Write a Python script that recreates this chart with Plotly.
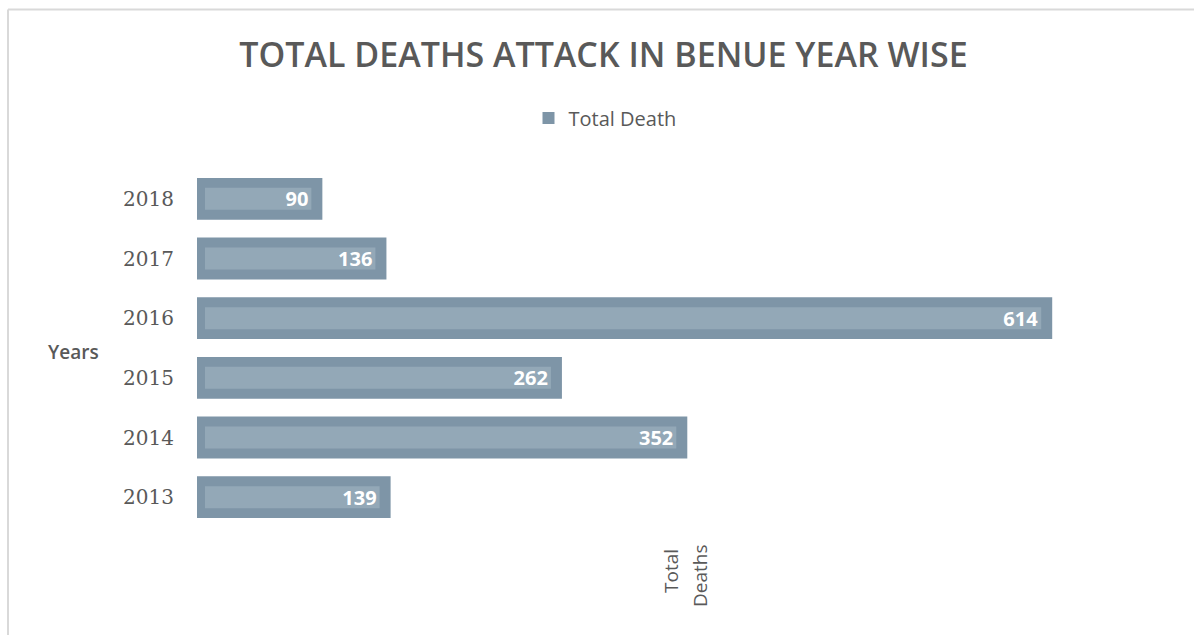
import plotly.graph_objects as go

# Data
years = ["2013", "2014", "2015", "2016", "2017", "2018"]
total_death = [139, 352, 262, 614, 136, 90]

W, H = 1194, 635
M_L, M_R, M_T, M_B = 197, 22, 169, 108
X_MAX = 700

OUTER = "#7e95a7"
INNER = "#93a8b7"
TEXT_GRAY = "#595959"

plot_w = W - M_L - M_R
plot_h = H - M_T - M_B
px_per_unit = plot_w / X_MAX
inset_left = 8 / px_per_unit
inset_right = 11 / px_per_unit

fig = go.Figure()

# Main bar (darker frame)
fig.add_trace(go.Bar(
    y=years, x=total_death, orientation="h",
    marker=dict(color=OUTER, line=dict(width=0)),
    width=0.70, name="Total Death", hoverinfo="x+y",
))

# Lighter inner band, carrying the value label
fig.add_trace(go.Bar(
    y=years,
    x=[v - inset_left - inset_right for v in total_death],
    base=[inset_left] * len(total_death),
    orientation="h",
    marker=dict(color=INNER, line=dict(width=0)),
    width=0.37, showlegend=False, hoverinfo="skip",
    text=[str(v) for v in total_death],
    textposition="inside", insidetextanchor="end", constraintext="none",
    textangle=0,
    textfont=dict(family="Open Sans", size=20, color="white", weight="bold"),
))

fig.update_layout(
    width=W, height=H,
    margin=dict(l=M_L, r=M_R, t=M_T, b=M_B),
    paper_bgcolor="white", plot_bgcolor="white",
    barmode="overlay",
    title=dict(
        text="TOTAL DEATHS ATTACK IN BENUE YEAR WISE",
        x=603.5 / W, xref="container", xanchor="center",
        y=1 - 55 / H, yref="container", yanchor="middle",
        font=dict(family="Open Sans", size=34, color=TEXT_GRAY, weight=600),
    ),
    legend=dict(
        orientation="h", x=605 / W, xanchor="center", xref="container",
        y=1 - 118 / H, yref="container", yanchor="middle",
        font=dict(family="Open Sans", size=20, color=TEXT_GRAY),
        itemwidth=30,
    ),
    xaxis=dict(range=[0, X_MAX], visible=False),
    yaxis=dict(
        type="category", categoryorder="array", categoryarray=years,
        range=[-0.5, 5.5],
        showgrid=False, zeroline=False, showline=False,
        ticks="", ticklabelstandoff=22,
        tickfont=dict(family="DejaVu Serif", size=20, color=TEXT_GRAY),
    ),
    showlegend=True,
)


def px_to_paper_x(px):
    return (px - M_L) / plot_w


def px_to_paper_y(py):
    return (H - M_B - py) / plot_h


# Axis titles
fig.add_annotation(
    text="Years", xref="paper", yref="paper",
    x=px_to_paper_x(73), y=px_to_paper_y(352), showarrow=False,
    xanchor="center", yanchor="middle",
    font=dict(family="Open Sans", size=19, color=TEXT_GRAY, weight=600),
)
for word, cx, cy in (("Total", 671, 571), ("Deaths", 700, 576)):
    fig.add_annotation(
        text=word, xref="paper", yref="paper",
        x=px_to_paper_x(cx), y=px_to_paper_y(cy), showarrow=False,
        xanchor="center", yanchor="middle", textangle=-90,
        font=dict(family="Open Sans", size=19, color=TEXT_GRAY),
    )

# Chart frame edges
fig.add_shape(type="line", xref="paper", yref="paper",
              x0=px_to_paper_x(8), x1=px_to_paper_x(W + 5),
              y0=px_to_paper_y(9.5), y1=px_to_paper_y(9.5),
              line=dict(color="#d9d9d9", width=2))
fig.add_shape(type="line", xref="paper", yref="paper",
              x0=px_to_paper_x(8), x1=px_to_paper_x(8),
              y0=px_to_paper_y(9.5), y1=px_to_paper_y(H + 5),
              line=dict(color="#d9d9d9", width=2))

fig.write_html("out.html")
